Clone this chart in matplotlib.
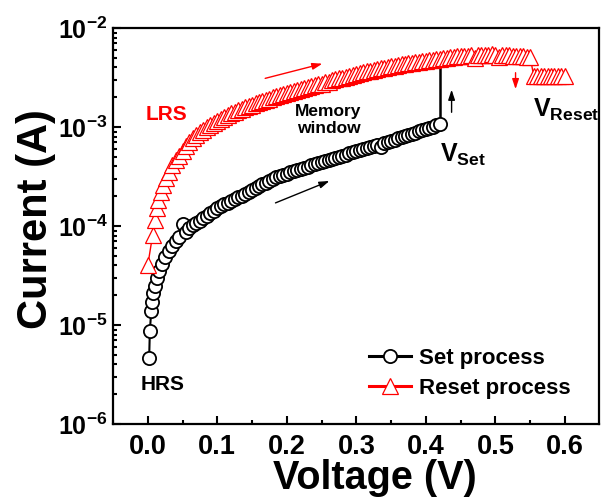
import math
import matplotlib
matplotlib.use('Agg')
import matplotlib.pyplot as plt
from matplotlib.ticker import MultipleLocator, LogLocator, FuncFormatter, NullFormatter

plt.rcParams['font.family'] = ['Liberation Sans', 'DejaVu Sans']
plt.rcParams['font.weight'] = 'bold'
plt.rcParams['mathtext.fontset'] = 'custom'
plt.rcParams['mathtext.rm'] = 'Liberation Sans:bold'
plt.rcParams['mathtext.bf'] = 'Liberation Sans:bold'
plt.rcParams['mathtext.default'] = 'bf'

# Set process (HRS -> LRS), voltage in V, current in A
set_voltage = [
    0.002, 0.003, 0.005, 0.006, 0.008, 0.010, 0.013, 0.016, 0.020, 0.025,
    0.030, 0.035, 0.040, 0.045, 0.050, 0.055, 0.060, 0.065, 0.070, 0.075,
    0.080, 0.085, 0.090, 0.095, 0.100, 0.105, 0.110, 0.115, 0.120, 0.125,
    0.130, 0.135, 0.140, 0.145, 0.150, 0.155, 0.160, 0.165, 0.170, 0.175,
    0.180, 0.185, 0.190, 0.195, 0.200, 0.205, 0.210, 0.215, 0.220, 0.225,
    0.230, 0.235, 0.240, 0.245, 0.250, 0.255, 0.260, 0.265, 0.270, 0.275,
    0.280, 0.285, 0.290, 0.295, 0.300, 0.305, 0.310, 0.315, 0.320, 0.325,
    0.330, 0.335, 0.340, 0.345, 0.350, 0.355, 0.360, 0.365, 0.370, 0.375,
    0.380, 0.385, 0.390, 0.395, 0.400, 0.405, 0.410, 0.415, 0.420,
]
set_current = [
    4.6e-6, 8.7e-6, 1.38e-5, 1.7e-5, 2.1e-5, 2.5e-5, 3.0e-5, 3.5e-5, 4.1e-5, 4.9e-5,
    5.6e-5, 6.3e-5, 7.1e-5, 7.8e-5, 1.05e-4, 8.7e-5, 9.55e-5, 1.02e-4, 1.07e-4, 1.12e-4,
    1.20e-4, 1.26e-4, 1.35e-4, 1.43e-4, 1.51e-4, 1.58e-4, 1.66e-4, 1.72e-4, 1.78e-4, 1.86e-4,
    1.95e-4, 2.02e-4, 2.09e-4, 2.19e-4, 2.29e-4, 2.40e-4, 2.51e-4, 2.63e-4, 2.75e-4, 2.88e-4,
    2.99e-4, 3.09e-4, 3.20e-4, 3.31e-4, 3.39e-4, 3.48e-4, 3.58e-4, 3.68e-4, 3.78e-4, 3.89e-4,
    3.98e-4, 4.09e-4, 4.21e-4, 4.33e-4, 4.45e-4, 4.57e-4, 4.68e-4, 4.79e-4, 4.90e-4, 5.01e-4,
    5.13e-4, 5.27e-4, 5.42e-4, 5.57e-4, 5.73e-4, 5.89e-4, 6.03e-4, 6.17e-4, 6.31e-4, 6.46e-4,
    6.53e-4, 6.30e-4, 6.84e-4, 7.05e-4, 7.24e-4, 7.45e-4, 7.66e-4, 7.87e-4, 8.09e-4, 8.32e-4,
    8.55e-4, 8.79e-4, 9.04e-4, 9.29e-4, 9.55e-4, 9.82e-4, 1.01e-3, 1.04e-3, 1.07e-3,
]
set_jump_current = 4.2e-3  # abrupt set at V_Set

# Reset process (LRS -> HRS)
reset_voltage = [
    0.000, 0.007, 0.010, 0.013, 0.015, 0.019, 0.022, 0.026, 0.030, 0.035,
    0.040, 0.045, 0.050, 0.055, 0.060, 0.065, 0.070, 0.075, 0.080, 0.085,
    0.090, 0.095, 0.100, 0.105, 0.110, 0.115, 0.120, 0.125, 0.130, 0.135,
    0.140, 0.145, 0.150, 0.155, 0.160, 0.165, 0.170, 0.175, 0.180, 0.185,
    0.190, 0.195, 0.200, 0.205, 0.210, 0.215, 0.220, 0.225, 0.230, 0.235,
    0.240, 0.245, 0.250, 0.255, 0.260, 0.265, 0.270, 0.275, 0.280, 0.285,
    0.290, 0.295, 0.300, 0.305, 0.310, 0.315, 0.320, 0.325, 0.330, 0.335,
    0.340, 0.345, 0.350, 0.355, 0.360, 0.365, 0.370, 0.375, 0.380, 0.385,
    0.390, 0.395, 0.400, 0.405, 0.410, 0.415, 0.420, 0.425, 0.430, 0.435,
    0.440, 0.445, 0.450, 0.455, 0.460, 0.465, 0.470, 0.475, 0.480, 0.485,
    0.490, 0.495, 0.500, 0.505, 0.510, 0.515, 0.520, 0.525, 0.530, 0.535,
    0.540, 0.545, 0.550, 0.555, 0.560, 0.565, 0.570, 0.575, 0.580, 0.585,
    0.590, 0.595, 0.600,
]
reset_current = [
    4.0e-5, 8.1e-5, 1.15e-4, 1.51e-4, 1.82e-4, 2.19e-4, 2.57e-4, 3.02e-4, 3.50e-4, 4.10e-4,
    4.68e-4, 5.13e-4, 5.75e-4, 6.46e-4, 7.08e-4, 7.76e-4, 8.32e-4, 8.91e-4, 9.33e-4, 1.00e-3,
    1.05e-3, 1.10e-3, 1.15e-3, 1.20e-3, 1.26e-3, 1.32e-3, 1.38e-3, 1.43e-3, 1.48e-3, 1.53e-3,
    1.58e-3, 1.63e-3, 1.68e-3, 1.73e-3, 1.78e-3, 1.83e-3, 1.88e-3, 1.94e-3, 2.00e-3, 2.04e-3,
    2.09e-3, 2.14e-3, 2.19e-3, 2.24e-3, 2.29e-3, 2.34e-3, 2.40e-3, 2.45e-3, 2.51e-3, 2.57e-3,
    2.63e-3, 2.69e-3, 2.75e-3, 2.82e-3, 2.88e-3, 2.95e-3, 3.02e-3, 3.09e-3, 3.16e-3, 3.23e-3,
    3.30e-3, 3.36e-3, 3.43e-3, 3.50e-3, 3.57e-3, 3.64e-3, 3.72e-3, 3.78e-3, 3.85e-3, 3.92e-3,
    3.98e-3, 4.04e-3, 4.09e-3, 4.16e-3, 4.22e-3, 4.28e-3, 4.35e-3, 4.41e-3, 4.47e-3, 4.52e-3,
    4.57e-3, 4.62e-3, 4.68e-3, 4.73e-3, 4.79e-3, 4.84e-3, 4.90e-3, 4.95e-3, 5.01e-3, 5.07e-3,
    5.13e-3, 5.16e-3, 5.19e-3, 5.22e-3, 5.25e-3, 5.28e-3, 5.01e-3, 5.35e-3, 5.37e-3, 5.37e-3,
    5.37e-3, 5.40e-3, 5.37e-3, 5.07e-3, 5.35e-3, 5.33e-3, 5.31e-3, 5.27e-3, 5.25e-3, 5.21e-3,
    5.19e-3, 5.13e-3, 5.13e-3, 3.30e-3, 3.28e-3, 3.30e-3, 3.27e-3, 3.29e-3, 3.30e-3, 3.26e-3,
    3.29e-3, 3.28e-3, 3.30e-3,
]

x_ticks = [0.0, 0.1, 0.2, 0.3, 0.4, 0.5, 0.6]

fig = plt.figure(figsize=(6.02, 4.99), dpi=100)
ax = fig.add_axes([0.1877, 0.1503, 0.8073, 0.7936])

ax.plot(set_voltage, set_current, color='black', lw=1.5, marker='o', ms=9.5,
        mfc='white', mec='black', mew=1.3, label='Set process')
ax.plot([set_voltage[-1], set_voltage[-1]], [set_current[-1], set_jump_current],
        color='black', lw=1.8, zorder=1)
ax.plot(reset_voltage, reset_current, color='red', lw=1.0, marker='^', ms=12,
        mfc='white', mec='red', mew=0.9, label='Reset process')

ax.set_yscale('log')
ax.set_xlim(-0.05, 0.649)
ax.set_ylim(1e-6, 1e-2)

ax.set_xticks(x_ticks)
ax.xaxis.set_minor_locator(MultipleLocator(0.05))
ax.xaxis.set_major_formatter(FuncFormatter(lambda v, p: f'{v:.1f}'))
ax.yaxis.set_major_locator(LogLocator(base=10, numticks=10))
ax.yaxis.set_minor_locator(LogLocator(base=10, subs=range(2, 10), numticks=10))
ax.yaxis.set_minor_formatter(NullFormatter())
ax.yaxis.set_major_formatter(FuncFormatter(lambda v, p: r'$10^{%d}$' % round(math.log10(v))))

ax.tick_params(which='both', direction='in', top=False, right=False, width=1.5)
ax.tick_params(which='major', length=6)
ax.tick_params(which='minor', length=3)
ax.tick_params(axis='x', which='major', labelsize=19.5, pad=7)
ax.tick_params(axis='y', which='major', labelsize=18, pad=4)
for s in ax.spines.values():
    s.set_linewidth(1.6)

ax.set_xlabel('Voltage (V)', fontsize=28.5, fontweight='bold', va='center')
ax.xaxis.set_label_coords(0.539, -0.136)
ax.set_ylabel('Current (A)', fontsize=30, fontweight='bold', va='center')
ax.yaxis.set_label_coords(-0.158, 0.518)

ax.text(0.0266, 1.34e-3, 'LRS', color='red', fontsize=15, fontweight='bold',
        ha='center', va='center')
ax.text(0.0209, 2.48e-6, 'HRS', color='black', fontsize=15, fontweight='bold',
        ha='center', va='center')
ax.text(0.260, 1.18e-3, 'Memory\nwindow', color='black', fontsize=12.5,
        fontweight='bold', ha='center', va='center', linespacing=1.2)
ax.text(0.420, 4.43e-4, r'$V_{Set}$', fontsize=18, ha='left', va='baseline')
ax.text(0.554, 1.26e-3, r'$V_{Reset}$', fontsize=18, ha='left', va='baseline')

arrow_style = '-|>,head_length=0.6,head_width=0.2'
ax.annotate('', xy=(0.255, 4.43e-3), xytext=(0.165, 3.05e-3),
            arrowprops=dict(arrowstyle=arrow_style, color='red', lw=1.0, mutation_scale=10))
ax.annotate('', xy=(0.265, 2.92e-4), xytext=(0.180, 1.67e-4),
            arrowprops=dict(arrowstyle=arrow_style, color='black', lw=1.0, mutation_scale=10))
ax.annotate('', xy=(0.437, 2.54e-3), xytext=(0.437, 1.32e-3),
            arrowprops=dict(arrowstyle=arrow_style, color='black', lw=1.0, mutation_scale=10))
ax.annotate('', xy=(0.529, 2.26e-3), xytext=(0.529, 3.77e-3),
            arrowprops=dict(arrowstyle=arrow_style, color='red', lw=1.0, mutation_scale=10))

leg = ax.legend(loc='upper left', bbox_to_anchor=(369 / 602, 1 - 348 / 499),
                bbox_transform=fig.transFigure, frameon=False, fontsize=16,
                handlelength=1.9, handletextpad=0.35, labelspacing=0.4, borderpad=0,
                borderaxespad=0)
for line in leg.get_lines():
    line.set_linewidth(2.2)

fig.savefig('out.png', dpi=100)
